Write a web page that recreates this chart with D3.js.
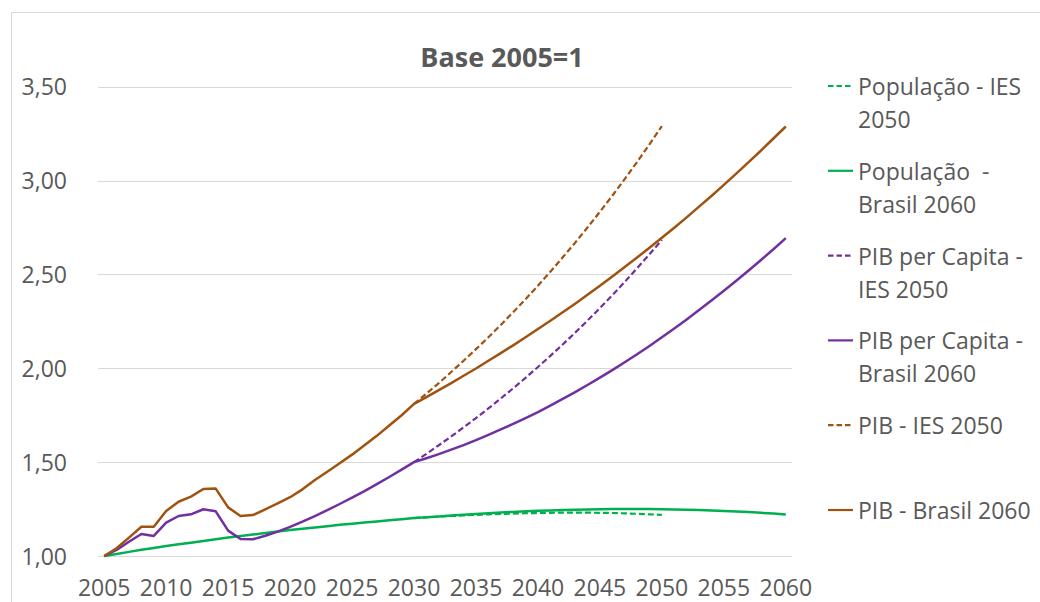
<!DOCTYPE html>
<html>
<head>
<meta charset="utf-8">
<script src="https://cdn.jsdelivr.net/npm/d3@7"></script>
<style>
  html, body { margin: 0; padding: 0; background: #fff; }
  svg { display: block; font-family: "Open Sans", sans-serif; }
</style>
</head>
<body>
<svg id="chart" width="1040" height="602"></svg>
<script>
const years = [2005,2006,2007,2008,2009,2010,2011,2012,2013,2014,2015,2016,2017,2018,2019,
  2020,2021,2022,2023,2024,2025,2026,2027,2028,2029,2030,2031,2032,2033,2034,2035,2036,2037,
  2038,2039,2040,2041,2042,2043,2044,2045,2046,2047,2048,2049,2050,2051,2052,2053,2054,2055,
  2056,2057,2058,2059,2060];
const yearsIES = [2030,2031,2032,2033,2034,2035,2036,2037,2038,2039,2040,2041,2042,2043,2044,
  2045,2046,2047,2048,2049,2050];

const popIES = [1.202,1.206,1.210,1.213,1.216,1.219,1.222,1.224,1.226,1.228,1.229,1.230,1.231,
  1.231,1.231,1.230,1.229,1.227,1.225,1.222,1.219];
const popBrasil = [1.000,1.011,1.022,1.033,1.043,1.053,1.062,1.071,1.080,1.089,1.098,1.106,1.114,
  1.122,1.130,1.138,1.145,1.152,1.159,1.166,1.172,1.178,1.184,1.190,1.196,1.202,1.206,1.211,1.216,
  1.220,1.224,1.228,1.232,1.235,1.238,1.241,1.243,1.245,1.247,1.248,1.249,1.250,1.250,1.250,1.250,
  1.249,1.248,1.247,1.245,1.243,1.240,1.237,1.234,1.230,1.226,1.221];
const pcIES = [1.500,1.544,1.590,1.637,1.685,1.735,1.786,1.839,1.893,1.949,2.007,2.066,2.127,
  2.190,2.254,2.321,2.389,2.460,2.533,2.607,2.684];
const pcBrasil = [1.000,1.032,1.076,1.117,1.107,1.178,1.213,1.222,1.249,1.238,1.135,1.091,1.089,
  1.108,1.130,1.155,1.183,1.213,1.244,1.277,1.311,1.346,1.383,1.421,1.460,1.500,1.521,1.543,1.567,
  1.591,1.617,1.645,1.674,1.704,1.735,1.767,1.801,1.837,1.873,1.911,1.950,1.990,2.032,2.075,2.119,
  2.165,2.212,2.260,2.310,2.361,2.413,2.466,2.521,2.577,2.634,2.693];
const pibIES = [1.810,1.865,1.921,1.980,2.040,2.102,2.165,2.231,2.299,2.368,2.440,2.514,2.591,
  2.669,2.750,2.834,2.919,3.008,3.099,3.193,3.290];
const pibBrasil = [1.000,1.041,1.098,1.156,1.156,1.240,1.289,1.316,1.357,1.359,1.259,1.213,1.218,
  1.249,1.281,1.313,1.355,1.405,1.449,1.494,1.540,1.590,1.640,1.695,1.750,1.810,1.846,1.884,1.921,
  1.960,1.999,2.040,2.081,2.122,2.165,2.209,2.253,2.298,2.344,2.392,2.440,2.489,2.539,2.590,2.642,
  2.695,2.749,2.804,2.861,2.918,2.977,3.037,3.098,3.160,3.224,3.288];

const yTicks = [1.0,1.5,2.0,2.5,3.0,3.5];
const xTickYears = [2005,2010,2015,2020,2025,2030,2035,2040,2045,2050,2055,2060];
const title = "Base 2005=1";

const seriesNames = [
  ["População - IES", "2050"],
  ["População  -", "Brasil 2060"],
  ["PIB per Capita -", "IES 2050"],
  ["PIB per Capita -", "Brasil 2060"],
  ["PIB - IES 2050"],
  ["PIB - Brasil 2060"]
];

const GREEN = "#00B050", PURPLE = "#7030A0", BROWN = "#A0520F";
const series = [
  {cats: yearsIES, vals: popIES, color: GREEN, dash: true},
  {cats: years, vals: popBrasil, color: GREEN, dash: false},
  {cats: yearsIES, vals: pcIES, color: PURPLE, dash: true},
  {cats: years, vals: pcBrasil, color: PURPLE, dash: false},
  {cats: yearsIES, vals: pibIES, color: BROWN, dash: true},
  {cats: years, vals: pibBrasil, color: BROWN, dash: false}
];

const svg = d3.select("#chart");
const TEXT = "#595959";

// chart border
svg.append("rect").attr("x", 11.5).attr("y", 12.5).attr("width", 1100).attr("height", 700)
  .attr("fill", "none").attr("stroke", "#D9D9D9").attr("stroke-width", 1);

const x = d3.scaleBand().domain(years).range([98, 792]).padding(0);
const xc = d => x(d) + x.bandwidth() / 2;
const y = d3.scaleLinear().domain([1, 3.5]).range([556, 86.7]);

const locale = d3.formatLocale({decimal: ",", thousands: ".", grouping: [3], currency: ["R$", ""]});
const fmt = locale.format(".2f");

// gridlines
svg.append("g").selectAll("line").data(yTicks).join("line")
  .attr("x1", 98).attr("x2", 792)
  .attr("y1", d => Math.round(y(d)) + 0.5).attr("y2", d => Math.round(y(d)) + 0.5)
  .attr("stroke", "#D9D9D9").attr("stroke-width", 1);

// y axis
const yAxis = svg.append("g").attr("transform", "translate(67,0)")
  .call(d3.axisLeft(y).tickValues(yTicks).tickFormat(fmt).tickSize(0).tickPadding(0));
yAxis.select(".domain").remove();
yAxis.selectAll("text").attr("fill", TEXT).style("font-size", "23px")
  .style("font-family", "'Open Sans', sans-serif").attr("dy", "0.35em");

// x axis
const xAxis = svg.append("g").attr("transform", "translate(0,556)")
  .call(d3.axisBottom(x).tickValues(xTickYears).tickSize(0).tickPadding(0));
xAxis.select(".domain").remove();
xAxis.selectAll("text").attr("fill", TEXT).style("font-size", "23px")
  .style("font-family", "'Open Sans', sans-serif").attr("y", 40).attr("dy", 0);

// lines
const line = d3.line().x(d => xc(d[0])).y(d => y(d[1]));
series.forEach(s => {
  const pts = s.cats.map((c, i) => [c, s.vals[i]]);
  svg.append("path").datum(pts)
    .attr("d", line)
    .attr("fill", "none")
    .attr("stroke", s.color)
    .attr("stroke-width", s.dash ? 2.2 : 2.5)
    .attr("stroke-linejoin", "round")
    .attr("stroke-dasharray", s.dash ? "6,3" : null);
});

// title
svg.append("text").attr("x", 502).attr("y", 67).attr("text-anchor", "middle")
  .attr("fill", TEXT).style("font-size", "27px").style("font-weight", "bold")
  .text(title);

// legend
const legY = d3.scaleLinear().domain([0, 5]).range([86, 510]);
const leg = svg.append("g");
seriesNames.forEach((lines, i) => {
  const s = series[i];
  const cy = legY(i);
  leg.append("line").attr("x1", 828).attr("x2", 853).attr("y1", cy).attr("y2", cy)
    .attr("stroke", s.color).attr("stroke-width", 2.2)
    .attr("stroke-dasharray", s.dash ? "5.5,3" : null);
  const t = leg.append("text").attr("x", 858).attr("y", cy + 9)
    .attr("fill", TEXT).style("font-size", "23px").style("white-space", "pre");
  lines.forEach((ln, j) => {
    t.append("tspan").attr("x", 858).attr("dy", j === 0 ? 0 : 33).text(ln);
  });
});
</script>
</body>
</html>
